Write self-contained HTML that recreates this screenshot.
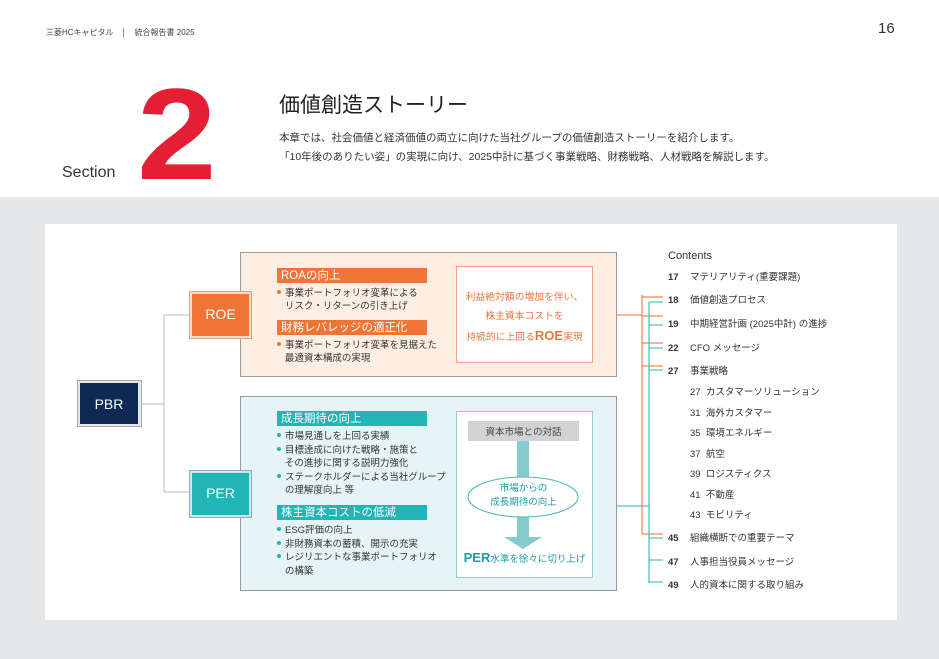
<!DOCTYPE html>
<html><head><meta charset="utf-8">
<style>
*{margin:0;padding:0;box-sizing:border-box}
body{width:939px;height:659px;background:#fff;position:relative;overflow:hidden;font-family:"Liberation Sans","Noto Sans CJK JP",sans-serif;color:#333}
.a{position:absolute;white-space:nowrap}
.band{position:absolute;left:0;top:197px;width:939px;height:462px;background:#e6e7e9}
.card{position:absolute;left:45px;top:224px;width:852px;height:396px;background:#fff}
.hd{color:#fff;font-size:11.5px;line-height:15px;padding-left:4px;padding-top:1px;height:15px}
.li{font-size:9.5px;line-height:13px;color:#333}
.dot{display:inline-block;width:4px;height:4px;border-radius:2px;margin:0 4px 2px 0;vertical-align:middle}
.toc{font-size:9.5px;color:#333}
.toc b{display:inline-block;width:22px;font-weight:bold}
</style></head><body>
<div class="a" style="left:46px;top:27px;font-size:8px;color:#444">三菱HCキャピタル　│　統合報告書 2025</div>
<div class="a" style="left:878px;top:20px;font-size:15px;color:#333">16</div>
<div class="a" style="left:62px;top:164px;font-size:16px;color:#333">Section</div>
<div class="a" style="left:137px;top:69px;font-size:130px;font-weight:bold;color:#e31e35;line-height:130px;transform:scaleX(1.1);transform-origin:left top">2</div>
<div class="a" style="left:279px;top:89px;font-size:21px;color:#222">価値創造ストーリー</div>
<div class="a" style="left:279px;top:129px;font-size:10.5px;line-height:19px;color:#333">本章では、社会価値と経済価値の両立に向けた当社グループの価値創造ストーリーを紹介します。<br>「10年後のありたい姿」の実現に向け、2025中計に基づく事業戦略、財務戦略、人材戦略を解説します。</div>
<div class="band"></div>
<div class="card"></div>

<svg class="a" style="left:0;top:0" width="939" height="659">
<g fill="none" stroke="#bbb" stroke-width="1">
<path d="M142 404H164M164 315V492M164 315H189M164 492H189"/>
</g>
<rect x="240.5" y="252.5" width="376" height="124" fill="#fdeee3" stroke="#999"/>
<rect x="240.5" y="396.5" width="376" height="194" fill="#e6f4f5" stroke="#999"/>
<rect x="456.5" y="266.5" width="136" height="96" fill="#fff" stroke="#f0a27a"/>
<rect x="456.5" y="411.5" width="136" height="166" fill="#fff" stroke="#8ccfd2"/>
<rect x="468" y="421" width="111" height="20" fill="#d2d3d5"/>
<rect x="517" y="441" width="12" height="98" fill="#86cbcd"/>
<path d="M504 537H542L523 549Z" fill="#86cbcd"/>
<ellipse cx="523" cy="497" rx="55" ry="20" fill="#fff" stroke="#4bb5b8"/>
<rect x="77.5" y="380.5" width="64" height="46" fill="#e4e6ea" stroke="#aaa"/>
<rect x="80" y="383" width="58" height="41" fill="#0d2a55"/>
<rect x="189.5" y="291.5" width="62" height="47" fill="#f9dcc9" stroke="#d9a58a"/>
<rect x="192" y="294" width="57" height="42" fill="#ef7436"/>
<rect x="189.5" y="470.5" width="62" height="47" fill="#c6e9ea" stroke="#8ac"/>
<rect x="192" y="473" width="57" height="42" fill="#21b5b5"/>
<g fill="none" stroke="#ef8a5a" stroke-width="1.3">
<path d="M616 315H642M642 295V534M642 297H663M642 316H663M642 343H663M642 366H663M642 534H663"/>
</g>
<g fill="none" stroke="#57bfc2" stroke-width="1.3">
<path d="M616 506H649M649 302V583M649 302H663M649 325H663M649 348H663M649 370H663M649 538H663M649 560H663M649 582H663"/>
</g>
</svg>

<div class="a" style="left:80px;top:396px;width:58px;text-align:center;color:#fff;font-size:14px">PBR</div>
<div class="a" style="left:192px;top:306px;width:57px;text-align:center;color:#fff;font-size:14px">ROE</div>
<div class="a" style="left:192px;top:485px;width:57px;text-align:center;color:#fff;font-size:14px">PER</div>

<div class="a hd" style="left:277px;top:268px;width:150px;background:#ef7436">ROAの向上</div>
<div class="a li" style="left:277px;top:287px"><span class="dot" style="background:#ef7436"></span>事業ポートフォリオ変革による<br>&nbsp;&nbsp;&nbsp;リスク・リターンの引き上げ</div>
<div class="a hd" style="left:277px;top:320px;width:150px;background:#ef7436">財務レバレッジの適正化</div>
<div class="a li" style="left:277px;top:339px"><span class="dot" style="background:#ef7436"></span>事業ポートフォリオ変革を見据えた<br>&nbsp;&nbsp;&nbsp;最適資本構成の実現</div>
<div class="a" style="left:456px;top:288px;width:137px;text-align:center;color:#e9753f;font-size:9.8px;line-height:19px">利益絶対額の増加を伴い、<br>株主資本コストを<br>持続的に上回る<b style="font-size:13px">ROE</b>実現</div>

<div class="a hd" style="left:277px;top:411px;width:150px;background:#21b5b5">成長期待の向上</div>
<div class="a li" style="left:277px;top:430px;line-height:13.5px"><span class="dot" style="background:#21b5b5"></span>市場見通しを上回る実績<br><span class="dot" style="background:#21b5b5"></span>目標達成に向けた戦略・施策と<br>&nbsp;&nbsp;&nbsp;その進捗に関する説明力強化<br><span class="dot" style="background:#21b5b5"></span>ステークホルダーによる当社グループ<br>&nbsp;&nbsp;&nbsp;の理解度向上 等</div>
<div class="a hd" style="left:277px;top:505px;width:150px;background:#21b5b5">株主資本コストの低減</div>
<div class="a li" style="left:277px;top:524px;line-height:13.5px"><span class="dot" style="background:#21b5b5"></span>ESG評価の向上<br><span class="dot" style="background:#21b5b5"></span>非財務資本の蓄積、開示の充実<br><span class="dot" style="background:#21b5b5"></span>レジリエントな事業ポートフォリオ<br>&nbsp;&nbsp;&nbsp;の構築</div>
<div class="a" style="left:468px;top:424px;width:111px;text-align:center;font-size:9.5px;color:#444">資本市場との対話</div>
<div class="a" style="left:468px;top:482px;width:111px;text-align:center;font-size:9.5px;line-height:14px;color:#1a9ea2">市場からの<br>成長期待の向上</div>
<div class="a" style="left:456px;top:550px;width:137px;text-align:center;font-size:9.5px;color:#1a9ea2"><b style="font-size:13px">PER</b>水準を徐々に切り上げ</div>

<div class="a" style="left:668px;top:250px;font-size:11px;color:#333">Contents</div>
<div class="a toc" style="left:668px;top:269px"><b>17</b>マテリアリティ(重要課題)</div>
<div class="a toc" style="left:668px;top:292px"><b>18</b>価値創造プロセス</div>
<div class="a toc" style="left:668px;top:316px"><b>19</b>中期経営計画 (2025中計) の進捗</div>
<div class="a toc" style="left:668px;top:340px"><b>22</b>CFO メッセージ</div>
<div class="a toc" style="left:668px;top:363px"><b>27</b>事業戦略</div>
<div class="a toc" style="left:690px;top:383px;line-height:20.5px">27&nbsp; カスタマーソリューション<br>31&nbsp; 海外カスタマー<br>35&nbsp; 環境エネルギー<br>37&nbsp; 航空<br>39&nbsp; ロジスティクス<br>41&nbsp; 不動産<br>43&nbsp; モビリティ</div>
<div class="a toc" style="left:668px;top:530px"><b>45</b>組織横断での重要テーマ</div>
<div class="a toc" style="left:668px;top:554px"><b>47</b>人事担当役員メッセージ</div>
<div class="a toc" style="left:668px;top:577px"><b>49</b>人的資本に関する取り組み</div>
</body></html>
